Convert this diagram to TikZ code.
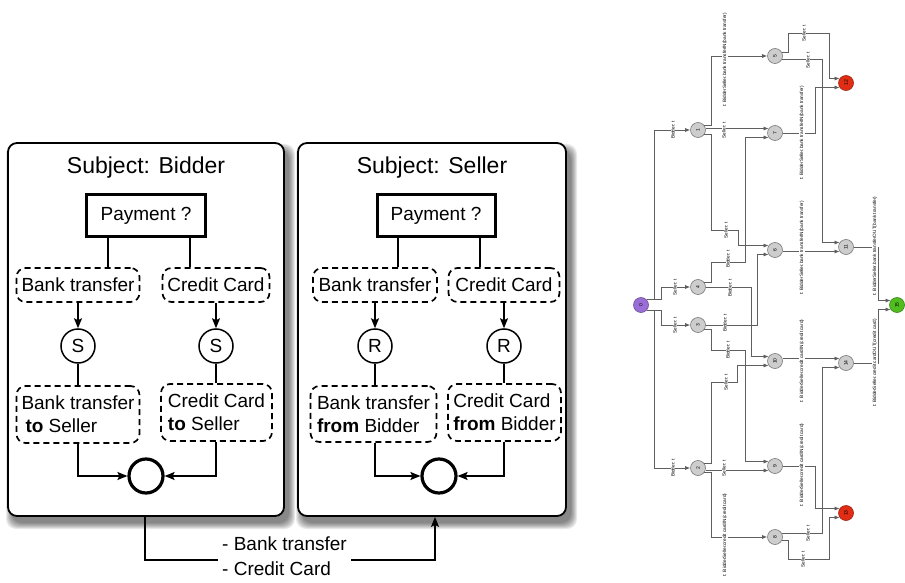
\documentclass[tikz,border=0pt]{standalone}
\usepackage{fontspec}
\setmainfont{Liberation Sans}
\usetikzlibrary{arrows.meta}
\definecolor{gline}{RGB}{95,95,95}
\definecolor{gfill}{RGB}{205,205,205}
\definecolor{gborder}{RGB}{120,120,120}
\definecolor{startc}{RGB}{155,110,215}
\definecolor{failc}{RGB}{225,45,20}
\definecolor{donec}{RGB}{80,190,30}
\begin{document}
\begin{tikzpicture}[x=1pt,y=-1pt,
  every node/.style={inner sep=0pt},
  subj/.style={draw=black, line width=1.8pt, fill=white, rounded corners=9pt},
  titletext/.style={font=\fontsize{23}{27}\selectfont},
  txt/.style={font=\fontsize{19}{23}\selectfont},
  decide/.style={draw, line width=3pt, txt},
  choice/.style={draw, line width=1.7pt, dash pattern=on 6pt off 4pt, rounded corners=9pt, txt},
  msg/.style={circle, draw, line width=1.5pt, minimum size=34pt, txt},
  endst/.style={circle, draw, line width=3.2pt, minimum size=34pt},
  link/.style={line width=1.5pt},
  arr/.style={link, -{Stealth[length=10pt,width=8pt,inset=2pt]}},
  gnode/.style={circle, draw=gborder, fill=gfill, minimum size=15pt, line width=0.6pt, font=\fontsize{5}{6}\selectfont},
  gedge/.style={draw=gline, line width=0.7pt, -{Latex[length=5pt,width=4pt]}},
  glab/.style={rotate=90, font=\fontsize{4.7}{5}\selectfont, fill=white, inner sep=0.5pt, text=black}
]
\useasboundingbox (0,0) rectangle (905,583);

% soft shadows behind the two subject boxes
\foreach \s in {0,1,...,6}{
  \fill[black, opacity=0.085, rounded corners=10pt] (12-\s,150-\s) rectangle (289+\s,523+\s);
  \fill[black, opacity=0.085, rounded corners=10pt] (302-\s,150-\s) rectangle (571+\s,523+\s);
}

% ---------- subject boxes ----------
\node[subj, minimum width=276pt, minimum height=373pt] (boxB) at (146,329.5) {};
\node[subj, minimum width=268pt, minimum height=373pt] (boxS) at (432,329.5) {};
\node[titletext, anchor=base] (tB) at (146,173) {Subject: Bidder};
\node[titletext, anchor=base] (tS) at (432,173) {Subject: Seller};

% ---------- Bidder ----------
\node[decide, minimum width=119pt, minimum height=42pt] (payB) at (146,215.5) {Payment ?};
\node[choice, minimum width=123pt, minimum height=34pt] (btB) at (78,285) {Bank transfer};
\node[choice, minimum width=107pt, minimum height=34pt] (ccB) at (216,285) {Credit Card};
\node[msg] (sB1) at (78,346) {S};
\node[msg] (sB2) at (216,346) {S};
\node[choice, minimum width=123pt, minimum height=57pt, align=left] (btoB) at (78,414.5) {Bank transfer\\\hspace{4pt}\textbf{to} Seller};
\node[choice, minimum width=111pt, minimum height=57pt, align=left] (ctoB) at (216.5,412.5) {Credit Card\\\textbf{to} Seller};
\node[endst] (endB) at (146,476) {};

\draw[link] ([xshift=-38pt]payB.south) -- ([xshift=-38pt]payB.south |- btB.north);
\draw[link] ([xshift=44pt]payB.south) -- ([xshift=44pt]payB.south |- ccB.north);
\draw[arr] (btB.south -| sB1) -- (sB1.north);
\draw[arr] (ccB.south -| sB2) -- (sB2.north);
\draw[link] (sB1.south) -- (sB1.south |- btoB.north);
\draw[link] (sB2.south) -- (sB2.south |- ctoB.north);
\draw[arr] (btoB.south -| sB1) |- (endB.west);
\draw[arr] (ctoB.south -| sB2) |- (endB.east);

% ---------- Seller ----------
\node[decide, minimum width=118pt, minimum height=42pt] (payS) at (436,215.5) {Payment ?};
\node[choice, minimum width=124pt, minimum height=34pt] (btS) at (375,285) {Bank transfer};
\node[choice, minimum width=111pt, minimum height=34pt] (ccS) at (504,285) {Credit Card};
\node[msg] (rS1) at (375,346) {R};
\node[msg] (rS2) at (504,346) {R};
\node[choice, minimum width=126pt, minimum height=56pt, align=left] (bfS) at (373.5,414) {Bank transfer\\\textbf{from} Bidder};
\node[choice, minimum width=113pt, minimum height=57pt, align=left] (cfS) at (504.5,412.5) {Credit Card\\\textbf{from} Bidder};
\node[endst] (endS) at (439,476) {};

\draw[link] ([xshift=-38pt]payS.south) -- ([xshift=-38pt]payS.south |- btS.north);
\draw[link] ([xshift=44pt]payS.south) -- ([xshift=44pt]payS.south |- ccS.north);
\draw[arr] (btS.south -| rS1) -- (rS1.north);
\draw[arr] (ccS.south -| rS2) -- (rS2.north);
\draw[link] (rS1.south) -- (rS1.south |- bfS.north);
\draw[link] (rS2.south) -- (rS2.south |- cfS.north);
\draw[arr] (bfS.south -| rS1) |- (endS.west);
\draw[arr] (cfS.south -| rS2) |- (endS.east);

% ---------- message exchange between the subjects ----------
\draw[arr] ([xshift=-1pt]boxB.south) -- ++(0,43) -| ([xshift=3pt]boxS.south);
\node[font=\fontsize{19}{25}\selectfont, fill=white, align=left, anchor=north west, inner xsep=4pt, inner ysep=5pt] (cargo) at (218,532) {- Bank transfer\\- Credit Card};

% ---------- reachability graph ----------
\node[gnode, fill=startc, draw=startc!70!black] (n0) at (641,305) {\rotatebox{90}{0}};
\node[gnode] (n1) at (698,130) {\rotatebox{90}{1}};
\node[gnode] (n2) at (698,468) {\rotatebox{90}{2}};
\node[gnode] (n3) at (698,325) {\rotatebox{90}{3}};
\node[gnode] (n4) at (698,287) {\rotatebox{90}{4}};
\node[gnode] (n5) at (775,56) {\rotatebox{90}{5}};
\node[gnode] (n6) at (775,250) {\rotatebox{90}{6}};
\node[gnode] (n7) at (775,133) {\rotatebox{90}{7}};
\node[gnode] (n8) at (775,537) {\rotatebox{90}{8}};
\node[gnode] (n9) at (775,466) {\rotatebox{90}{9}};
\node[gnode] (n10) at (775,361) {\rotatebox{90}{10}};
\node[gnode] (n11) at (846,247) {\rotatebox{90}{11}};
\node[gnode, fill=failc, draw=failc!70!black] (n12) at (846,83) {\rotatebox{90}{12}};
\node[gnode, fill=failc, draw=failc!70!black] (n13) at (846,513) {\rotatebox{90}{13}};
\node[gnode] (n14) at (846,363) {\rotatebox{90}{14}};
\node[gnode, fill=donec, draw=donec!70!black] (n15) at (897,305) {\rotatebox{90}{15}};

% bend columns of the orthogonal edges
\coordinate (c654) at (654,0);
\coordinate (c661) at (661,0);
\coordinate (c711) at (711,0);
\coordinate (c751) at (751,0);
\coordinate (c757) at (757,0);
\coordinate (c788) at (788,0);
\coordinate (c815) at (815,0);
\coordinate (c822) at (822,0);
\coordinate (c878) at (878,0);

\draw[gedge] (n0.45) -- (n0.45 -| c654) |- (n1.west);
\draw[gedge] (n0.-45) -- (n0.-45 -| c654) |- (n2.west);
\draw[gedge] (n0.45) -- (n0.45 -| c661) |- (n4.west);
\draw[gedge] (n0.-45) -- (n0.-45 -| c661) |- (n3.west);
\draw[gedge] (n1.35) -- (n1.35 -| c711) |- (n5.west);
\draw[gedge] (n1.east |- n7.145) -- (n7.145);
\draw[gedge] (n1.-35) -- (n1.-35 -| c711) |- (738,230) |- (n6.145);
\draw[gedge] (n4.35) -- (n4.35 -| c711) |- (745,262) |- (n7.215);
\draw[gedge] (n4.east) -- (n4.east -| c751) |- (n10.145);
\draw[gedge] (n3.east) -- (n3.east -| c757) |- (n6.215);
\draw[gedge] (n3.-35) -- (n3.-35 -| c711) |- (745,350) |- (n9.145);
\draw[gedge] (n2.35) -- (n2.35 -| c711) |- (737,382) |- (n10.215);
\draw[gedge] (n2.east |- n9.215) -- (n9.215);
\draw[gedge] (n2.-35) -- (n2.-35 -| c711) |- (n8.west);
\draw[gedge] (n5.25) -- (n5.25 -| c788) |- (829,33) |- (n12.145);
\draw[gedge] (n5.-25) -- (n5.-25 -| c822) |- (n11.145);
\draw[gedge] (n7.east) -- (n7.east -| c815) |- (n12.215);
\draw[gedge] (n6.east |- n11.215) -- (n11.215);
\draw[gedge] (n11.east) -- (n11.east -| c878) |- (n15.145);
\draw[gedge] (n14.east) -- (n14.east -| c878) |- (n15.215);
\draw[gedge] (n10.east |- n14.145) -- (n14.145);
\draw[gedge] (n9.east) -- (n9.east -| c815) |- (n13.145);
\draw[gedge] (n8.25) -- (n8.25 -| c822) |- (n14.215);
\draw[gedge] (n8.-25) -- (n8.-25 -| c788) |- (829,559) |- (n13.215);

% transition labels
\node[glab] (l1) at (673,130) {Bidder: t};
\node[glab] (l2) at (673,468) {Bidder: t};
\node[glab] (l3) at (675,287) {Seller: t};
\node[glab] (l4) at (675,325) {Seller: t};
\node[glab] (l5) at (725,60) {t: BidderSeller.bank transferIN(bank transfer)};
\node[glab] (l6) at (724,130) {Seller: t};
\node[glab] (l7) at (726,230) {Seller: t};
\node[glab] (l8) at (728,259) {Bidder: t};
\node[glab] (l9) at (730,288) {Bidder: t};
\node[glab] (l10) at (725,323) {Bidder: t};
\node[glab] (l11) at (728,350) {Bidder: t};
\node[glab] (l12) at (726,382) {Seller: t};
\node[glab] (l13) at (724,468) {Seller: t};
\node[glab] (l14) at (725,535) {t: BidderSeller.credit cardIN(credit card)};
\node[glab] (l15) at (804,33) {Seller: t};
\node[glab] (l16) at (808,60) {Seller: t};
\node[glab] (l17) at (802,133) {t: BidderSeller.bank transferIN(bank transfer)};
\node[glab] (l18) at (802,248) {t: BidderSeller.bank transferIN(bank transfer)};
\node[glab] (l19) at (875,246) {t: BidderSeller.bank transferOUT(bank transfer)};
\node[glab] (l20) at (875,363) {t: BidderSeller.credit cardOUT(credit card)};
\node[glab] (l21) at (802,361) {t: BidderSeller.credit cardIN(credit card)};
\node[glab] (l22) at (802,465) {t: BidderSeller.credit cardIN(credit card)};
\node[glab] (l23) at (808,533) {Seller: t};
\node[glab] (l24) at (803,559) {Seller: t};
\end{tikzpicture}
\end{document}
